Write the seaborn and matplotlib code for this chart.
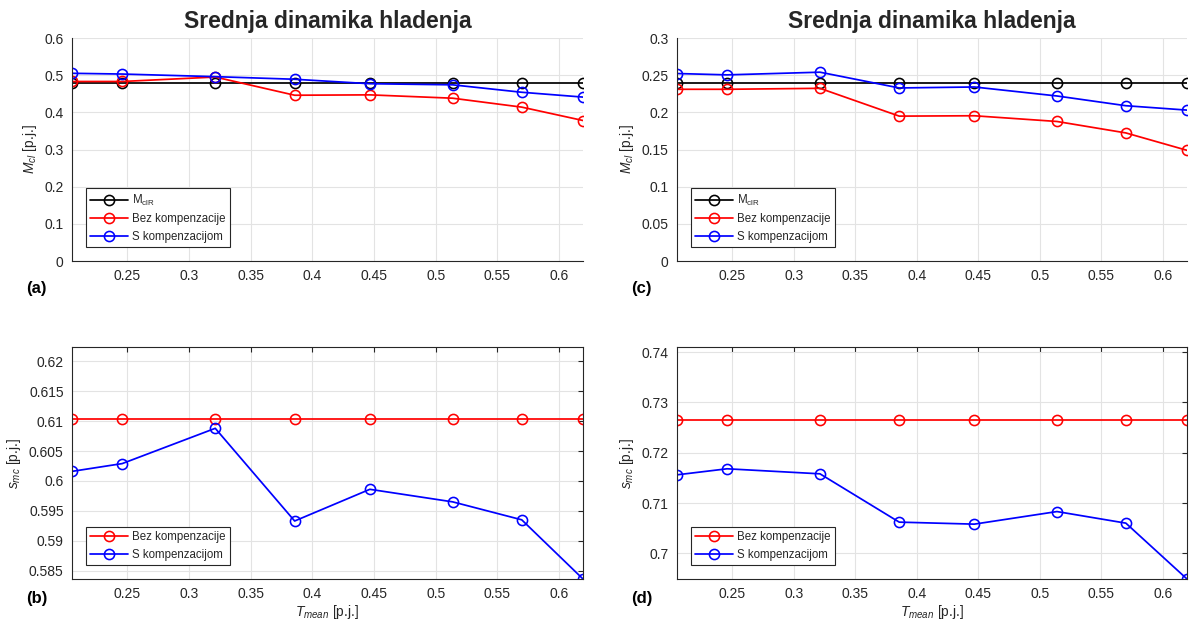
import numpy as np
import pandas as pd
import matplotlib
matplotlib.use("Agg")
import matplotlib.pyplot as plt
from matplotlib.ticker import FuncFormatter, MultipleLocator
import seaborn as sns

# ---------------- data ----------------
t_mean = [0.2050, 0.2457, 0.3212, 0.3856, 0.4466, 0.5138, 0.5698, 0.6195]

mclr_a = [0.480, 0.480, 0.480, 0.480, 0.480, 0.480, 0.480, 0.480]
bez_a = [0.483, 0.483, 0.495, 0.446, 0.447, 0.438, 0.414, 0.378]
s_a = [0.505, 0.503, 0.496, 0.489, 0.477, 0.474, 0.454, 0.441]

mclr_c = [0.240, 0.240, 0.240, 0.240, 0.240, 0.240, 0.240, 0.240]
bez_c = [0.2310, 0.2310, 0.2323, 0.1949, 0.1954, 0.1877, 0.1723, 0.1489]
s_c = [0.2522, 0.2504, 0.2540, 0.2328, 0.2341, 0.2220, 0.2089, 0.2030]

bez_b = [0.6103, 0.6103, 0.6103, 0.6103, 0.6103, 0.6103, 0.6103, 0.6103]
s_b = [0.6016, 0.6029, 0.6088, 0.5933, 0.5986, 0.5965, 0.5935, 0.5836]

bez_d = [0.7264, 0.7264, 0.7264, 0.7264, 0.7264, 0.7264, 0.7264, 0.7264]
s_d = [0.7156, 0.7168, 0.7158, 0.7062, 0.7058, 0.7083, 0.7060, 0.6949]

lbl_mclr = r"M$_{\mathrm{clR}}$"
lbl_bez = "Bez kompenzacije"
lbl_s = "S kompenzacijom"
title_txt = "Srednja dinamika hladenja"
ylabel_top = r"$M_{cl}$ [p.j.]"
ylabel_bot = r"$s_{mc}$ [p.j.]"
xlabel_bot = r"$T_{mean}$ [p.j.]"
panel_letters = ["(a)", "(b)", "(c)", "(d)"]

# ---------------- style ----------------
sns.set_theme(style="white")
plt.rcParams["font.family"] = ["Liberation Sans", "DejaVu Sans"]
plt.rcParams["mathtext.fontset"] = "custom"
plt.rcParams["mathtext.rm"] = "Liberation Sans"
plt.rcParams["mathtext.it"] = "Liberation Sans:italic"
plt.rcParams["mathtext.bf"] = "Liberation Sans:bold"

DARK = "#262626"
fig = plt.figure(figsize=(11.95, 6.24), dpi=100)

W = 1195.0
H = 624.0
def rect(l, r, t, b):
    return [l / W, 1 - b / H, (r - l) / W, (b - t) / H]

ax_a = fig.add_axes(rect(72, 583, 38, 261))
ax_c = fig.add_axes(rect(677, 1187, 38, 261))
ax_b = fig.add_axes(rect(72, 583, 347, 579))
ax_d = fig.add_axes(rect(677, 1187, 347, 579))

fmt = FuncFormatter(lambda v, p: ("%g" % round(v, 6)))

def draw(ax, series):
    rows = []
    for name, vals, col in series:
        for xv, yv in zip(t_mean, vals):
            rows.append({"x": xv, "y": yv, "s": name})
    df = pd.DataFrame(rows)
    pal = {name: col for name, vals, col in series}
    sns.lineplot(data=df, x="x", y="y", hue="s", palette=pal, ax=ax,
                 marker="o", markersize=7.3, markerfacecolor="none",
                 markeredgewidth=1.15, linewidth=1.25, estimator=None,
                 sort=False, legend=False)
    for line, (name, vals, col) in zip(ax.get_lines(), series):
        line.set_markeredgecolor(col)
        line.set_label(name)
    ax.set_xlim(t_mean[0], t_mean[-1])
    ax.xaxis.set_major_locator(MultipleLocator(0.05))
    ax.xaxis.set_major_formatter(fmt)
    ax.yaxis.set_major_formatter(fmt)
    ax.grid(True, color="#e3e3e3", linewidth=0.8)
    ax.set_axisbelow(True)
    ax.tick_params(direction="in", length=3.5, width=0.8, colors=DARK,
                   labelsize=10, labelcolor=DARK, pad=6)
    for sp in ax.spines.values():
        sp.set_color(DARK)
        sp.set_linewidth(0.8)
    ax.set_xlabel("")
    ax.set_ylabel("")
    leg = ax.legend(loc="lower left", fontsize=8.3, frameon=True, fancybox=False,
                    edgecolor=DARK, framealpha=1, handlelength=3.3,
                    borderaxespad=1.2, labelspacing=0.45, borderpad=0.4,
                    handletextpad=0.3)
    leg.get_frame().set_linewidth(0.8)

draw(ax_a, [(lbl_mclr, mclr_a, "black"), (lbl_bez, bez_a, "red"), (lbl_s, s_a, "blue")])
draw(ax_c, [(lbl_mclr, mclr_c, "black"), (lbl_bez, bez_c, "red"), (lbl_s, s_c, "blue")])
draw(ax_b, [(lbl_bez, bez_b, "red"), (lbl_s, s_b, "blue")])
draw(ax_d, [(lbl_bez, bez_d, "red"), (lbl_s, s_d, "blue")])

# top panels: box off
for ax in (ax_a, ax_c):
    ax.spines["top"].set_visible(False)
    ax.spines["right"].set_visible(False)
    ax.set_title(title_txt, fontsize=16.5, fontweight="bold", pad=7)
    ax.set_ylabel(ylabel_top, fontsize=10, color=DARK)

ax_a.set_ylim(0, 0.6)
ax_a.yaxis.set_major_locator(MultipleLocator(0.1))
ax_c.set_ylim(0, 0.3)
ax_c.yaxis.set_major_locator(MultipleLocator(0.05))

# bottom panels: box on, ticks on all sides
for ax in (ax_b, ax_d):
    ax.tick_params(top=True, right=True)
    ax.set_ylabel(ylabel_bot, fontsize=10, color=DARK)
    ax.set_xlabel(xlabel_bot, fontsize=10, color=DARK, labelpad=1)

ax_b.set_ylim(0.5836, 0.6224)
ax_b.yaxis.set_major_locator(MultipleLocator(0.005))
ax_d.set_ylim(0.6949, 0.7410)
ax_d.yaxis.set_major_locator(MultipleLocator(0.01))

# panel letters
for txt, (px, py) in zip(panel_letters, [(26, 288), (26, 598), (631, 288), (631, 598)]):
    fig.text(px / W, 1 - py / H, txt, fontsize=12, fontweight="bold",
             ha="left", va="center", color="black")

fig.savefig("out.png", dpi=100)
